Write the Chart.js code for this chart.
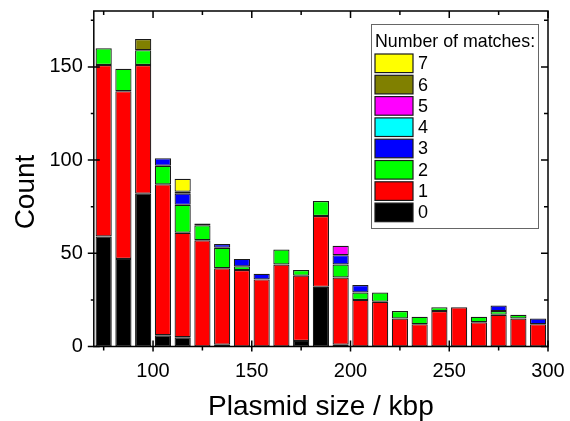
<!DOCTYPE html>
<html><head><meta charset="utf-8">
<script src="https://cdn.jsdelivr.net/npm/chart.js@4/dist/chart.umd.min.js"></script>
<style>html,body{margin:0;padding:0;background:#fff}#wrap{width:570px;height:421px}</style>
</head><body><div id="wrap"><canvas id="c" width="570" height="421"></canvas></div>
<script>
// Bin centres (kbp), bins of width 10
const binCenters = [75,85,95,105,115,125,135,145,155,165,175,185,195,205,215,225,235,245,255,265,275,285,295];
// Counts per number of matches
const matches0 = [59,47,82,6,5,0,1,0,0,0,3,32,1,0,0,0,0,0,0,0,0,0,0];
const matches1 = [92,90,69,81,56,57,41,41,36,44,35,38,36,25,24,15,12,19,21,13,17,15,12];
const matches2 = [9,12,8,10,15,8,11,2,0,8,3,8,7,4,5,4,4,2,0,3,2,2,0];
const matches3 = [0,0,0,4,6,0,2,4,3,0,0,0,5,4,0,0,0,0,0,0,3,0,3];
const matches4 = [0,0,0,0,1,1,0,0,0,0,0,0,0,0,0,0,0,0,0,0,0,0,0];
const matches5 = [0,0,0,0,0,0,0,0,0,0,0,0,5,0,0,0,0,0,0,0,0,0,0];
const matches6 = [0,0,6,0,0,0,0,0,0,0,0,0,0,0,0,0,0,0,0,0,0,0,0];
const matches7 = [0,0,0,0,7,0,0,0,0,0,0,0,0,0,0,0,0,0,0,0,0,0,0];
const seriesLabels = ['0','1','2','3','4','5','6','7'];
const seriesColors = ['#000000','#ff0000','#00ff00','#0000ff','#00ffff','#ff00ff','#808000','#ffff00'];
const xTicks = [100,150,200,250,300];
const xMinorTicks = [75,125,175,225,275];
const yTicks = [0,50,100,150];
const yMinorTicks = [25,75,125,175];
const xTitle = 'Plasmid size / kbp';
const yTitle = 'Count';
const legendTitle = 'Number of matches:';

const allSeries = [matches0,matches1,matches2,matches3,matches4,matches5,matches6,matches7];
const FONT = "'Liberation Sans', Arial, sans-serif";
Chart.defaults.font.family = FONT;
Chart.defaults.color = '#000';

const datasets = allSeries.map((arr, k) => ({
  label: seriesLabels[k],
  data: binCenters.map((b, i) => ({x: b, y: arr[i] ? arr[i] : null})),
  backgroundColor: seriesColors[k],
  borderColor: '#1a1a1a',
  borderWidth: 1.2,
  borderSkipped: false,
  categoryPercentage: 1.0,
  barPercentage: 0.82
}));

const decor = {
  id: 'decor',
  afterDraw(chart) {
    const ctx = chart.ctx, a = chart.chartArea;
    const xs = chart.scales.x, ys = chart.scales.y;
    ctx.save();
    ctx.strokeStyle = '#000';
    ctx.lineWidth = 1.5;
    ctx.strokeRect(a.left, a.top, a.right - a.left, a.bottom - a.top);
    ctx.beginPath();
    xTicks.forEach(v => {
      const p = xs.getPixelForValue(v);
      ctx.moveTo(p, a.bottom + 5); ctx.lineTo(p, a.bottom - 6);
      ctx.moveTo(p, a.top); ctx.lineTo(p, a.top + 7);
    });
    xMinorTicks.forEach(v => {
      const p = xs.getPixelForValue(v);
      ctx.moveTo(p, a.bottom); ctx.lineTo(p, a.bottom + 4);
      ctx.moveTo(p, a.top); ctx.lineTo(p, a.top + 4);
    });
    yTicks.forEach(v => {
      const p = ys.getPixelForValue(v);
      ctx.moveTo(a.left - 6, p); ctx.lineTo(a.left + 6, p);
      ctx.moveTo(a.right, p); ctx.lineTo(a.right - 7, p);
    });
    yMinorTicks.forEach(v => {
      const p = ys.getPixelForValue(v);
      ctx.moveTo(a.left - 3, p); ctx.lineTo(a.left, p);
      ctx.moveTo(a.right, p); ctx.lineTo(a.right - 4, p);
    });
    ctx.stroke();

    // axis titles
    ctx.fillStyle = '#000';
    ctx.font = '28px ' + FONT;
    ctx.textAlign = 'center';
    ctx.textBaseline = 'alphabetic';
    ctx.fillText(xTitle, (a.left + a.right) / 2, 415);
    ctx.save();
    ctx.translate(34, 192);
    ctx.rotate(-Math.PI / 2);
    ctx.fillText(yTitle, 0, 0);
    ctx.restore();

    // legend
    const lx = 371, ly = 24, lw = 167, lh = 204;
    ctx.fillStyle = '#fff';
    ctx.fillRect(lx, ly, lw, lh);
    ctx.strokeStyle = '#666';
    ctx.lineWidth = 1;
    ctx.strokeRect(lx + 0.5, ly + 0.5, lw, lh);
    ctx.fillStyle = '#000';
    ctx.textAlign = 'left';
    ctx.textBaseline = 'middle';
    ctx.font = '17.8px ' + FONT;
    ctx.fillText(legendTitle, 375, 42);
    const ds = chart.data.datasets;
    ctx.font = '18px ' + FONT;
    for (let r = 0; r < ds.length; r++) {
      const d = ds[ds.length - 1 - r];
      const cy = 63.3 + r * 21.3;
      ctx.fillStyle = d.backgroundColor;
      ctx.fillRect(375, cy - 9.3, 38, 18.6);
      ctx.strokeStyle = '#1a1a1a';
      ctx.lineWidth = 1.2;
      ctx.strokeRect(375, cy - 9.3, 38, 18.6);
      ctx.fillStyle = '#000';
      ctx.fillText(d.label, 418, cy + 1);
    }
    ctx.restore();
  }
};

new Chart(document.getElementById('c'), {
  type: 'bar',
  data: { datasets },
  options: {
    responsive: false,
    animation: false,
    devicePixelRatio: 1,
    layout: { padding: { top: 11, right: 22, left: 0, bottom: 0 } },
    plugins: { legend: { display: false }, tooltip: { enabled: false } },
    scales: {
      x: {
        type: 'linear', min: 70, max: 300, stacked: true, offset: false,
        grid: { display: false, drawTicks: false },
        border: { display: false },
        afterBuildTicks: s => { s.ticks = xTicks.map(v => ({ value: v })); },
        afterFit: s => { s.height = 74.5; s.paddingLeft = 0; s.paddingRight = 0; },
        ticks: { font: { size: 20 }, color: '#000', padding: 13, maxRotation: 0, autoSkip: false }
      },
      y: {
        min: 0, max: 180, stacked: true,
        grid: { display: false, drawTicks: false },
        border: { display: false },
        afterBuildTicks: s => { s.ticks = yTicks.map(v => ({ value: v })); },
        afterFit: s => { s.width = 93.8; s.paddingTop = 0; s.paddingBottom = 0; },
        ticks: { font: { size: 20 }, color: '#000', padding: 11 }
      }
    }
  },
  plugins: [decor]
});
</script>
</body></html>
